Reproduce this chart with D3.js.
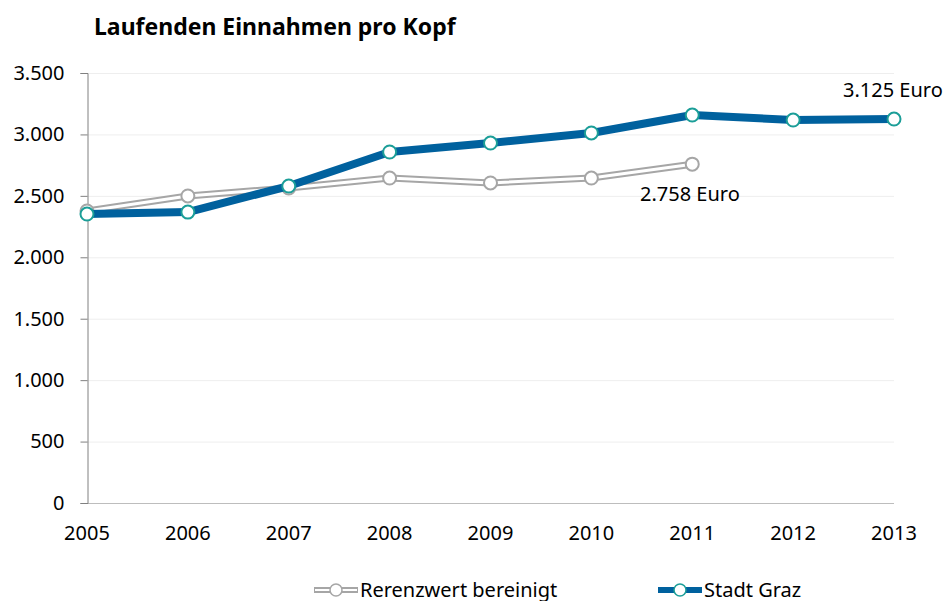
<!DOCTYPE html>
<html>
<head>
<meta charset="utf-8">
<title>Laufenden Einnahmen pro Kopf</title>
<script src="https://d3js.org/d3.v7.min.js"></script>
<style>
  body { margin: 0; background: #fff; }
  text { font-family: "Noto Sans", "Open Sans", sans-serif; fill: #000; }
</style>
</head>
<body>
<div id="chart"></div>
<script>
// data
var years = [2005, 2006, 2007, 2008, 2009, 2010, 2011, 2012, 2013];
var graz = [2352, 2368, 2580, 2857, 2930, 3012, 3158, 3117, 3125];
var referenz = [2377, 2499, 2564, 2645, 2605, 2645, 2758]; // 2005..2011
var yTicks = [0, 500, 1000, 1500, 2000, 2500, 3000, 3500];

var width = 948, height = 601;
var fmt = d3.format(",");
function de(v) { return fmt(v).replace(/,/g, "."); }

var svg = d3.select("#chart").append("svg")
  .attr("width", width).attr("height", height);

var x = d3.scaleLinear().domain([2005, 2013]).range([87, 894]);
var y = d3.scaleLinear().domain([0, 3500]).range([503, 73]);

// title
svg.append("text")
  .attr("x", 94).attr("y", 35)
  .style("font-size", "23px").style("font-weight", "bold")
  .text("Laufenden Einnahmen pro Kopf");

// grid
svg.append("g").selectAll("line")
  .data(yTicks.filter(d => d > 0))
  .join("line")
  .attr("x1", 87).attr("x2", 894)
  .attr("y1", d => y(d) + 0.5).attr("y2", d => y(d) + 0.5)
  .attr("stroke", "#eeeeee").attr("stroke-width", 1);

// x baseline
svg.append("line")
  .attr("x1", 87).attr("x2", 894)
  .attr("y1", y(0) + 0.5).attr("y2", y(0) + 0.5)
  .attr("stroke", "#bdbdbd");

// y axis
var yAxis = svg.append("g")
  .attr("transform", "translate(87.5,0)")
  .call(d3.axisLeft(y).tickValues(yTicks).tickFormat(de).tickSize(7).tickPadding(16));
yAxis.select(".domain").attr("stroke", "#808080");
yAxis.selectAll(".tick line").attr("stroke", "#808080");
yAxis.selectAll("text").style("font-size", "20px")
  .style("font-family", '"Noto Sans", sans-serif').attr("fill", "#000");

// x labels
svg.append("g").selectAll("text")
  .data(years)
  .join("text")
  .attr("x", d => x(d)).attr("y", 540)
  .attr("text-anchor", "middle")
  .style("font-size", "20px")
  .text(d => d);

var line = d3.line().x((d, i) => x(years[i])).y(d => y(d));

// grey double line
svg.append("path").datum(referenz)
  .attr("d", line).attr("fill", "none")
  .attr("stroke", "#a6a6a6").attr("stroke-width", 7).attr("stroke-linejoin", "round");
svg.append("path").datum(referenz)
  .attr("d", line).attr("fill", "none")
  .attr("stroke", "#fff").attr("stroke-width", 3).attr("stroke-linejoin", "round");
svg.append("g").selectAll("circle")
  .data(referenz).join("circle")
  .attr("cx", (d, i) => x(years[i])).attr("cy", d => y(d))
  .attr("r", 6.5).attr("fill", "#fff")
  .attr("stroke", "#a6a6a6").attr("stroke-width", 2);

// blue line
svg.append("path").datum(graz)
  .attr("d", line).attr("fill", "none")
  .attr("stroke", "#00619e").attr("stroke-width", 8).attr("stroke-linejoin", "round");
svg.append("g").selectAll("circle")
  .data(graz).join("circle")
  .attr("cx", (d, i) => x(years[i])).attr("cy", d => y(d))
  .attr("r", 6.5).attr("fill", "#fff")
  .attr("stroke", "#1b9e98").attr("stroke-width", 2);

// annotations
svg.append("text")
  .attr("x", 843).attr("y", 97)
  .style("font-size", "20px")
  .text(de(graz[graz.length - 1]) + " Euro");
svg.append("text")
  .attr("x", 640).attr("y", 201)
  .style("font-size", "20px")
  .text(de(referenz[referenz.length - 1]) + " Euro");

// legend
var leg = svg.append("g");
function legendItem(x0, stroke, marker, doubleLine, label) {
  var yy = 590;
  leg.append("line").attr("x1", x0).attr("x2", x0 + 44).attr("y1", yy).attr("y2", yy)
    .attr("stroke", stroke).attr("stroke-width", 6);
  if (doubleLine) {
    leg.append("line").attr("x1", x0 + 1).attr("x2", x0 + 43).attr("y1", yy).attr("y2", yy)
      .attr("stroke", "#fff").attr("stroke-width", 2);
  }
  leg.append("circle").attr("cx", x0 + 22).attr("cy", yy).attr("r", 6)
    .attr("fill", "#fff").attr("stroke", marker).attr("stroke-width", 1.5);
  leg.append("text").attr("x", x0 + 46).attr("y", yy + 7)
    .style("font-size", "20px").text(label);
}
legendItem(314, "#a6a6a6", "#a6a6a6", true, "Rerenzwert bereinigt");
legendItem(658, "#00619e", "#1b9e98", false, "Stadt Graz");
</script>
</body>
</html>
